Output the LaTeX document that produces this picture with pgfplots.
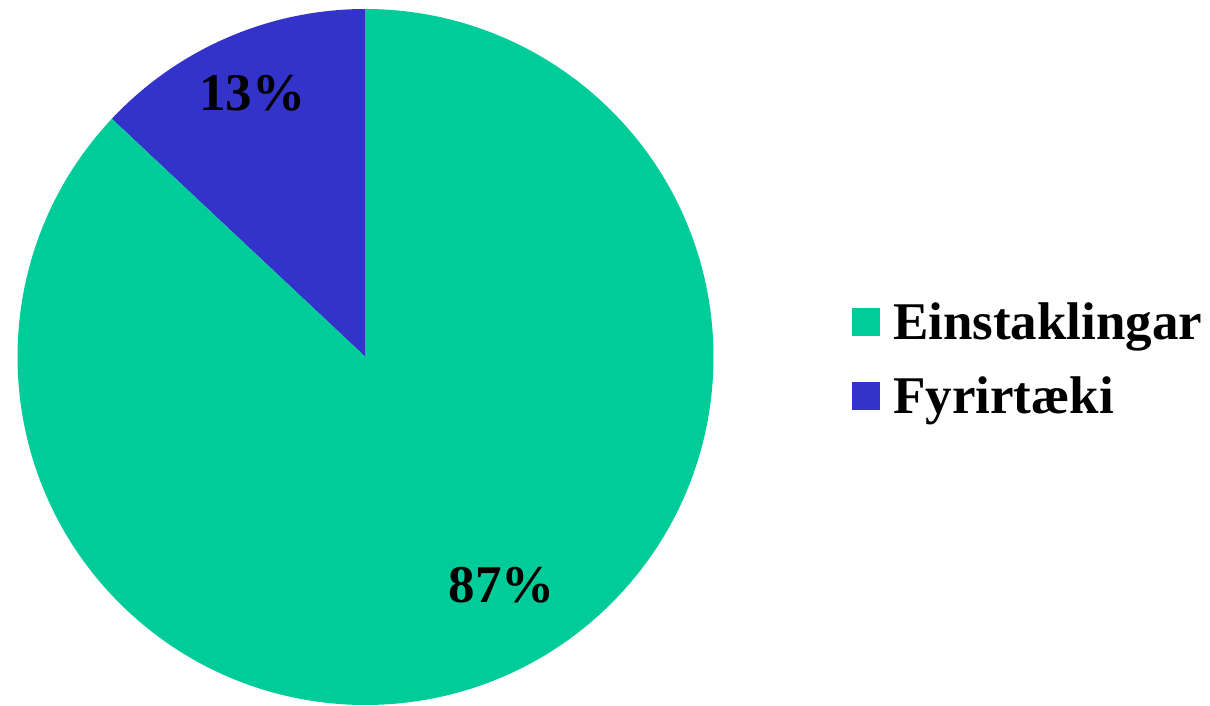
\documentclass[border=0pt]{standalone}
\usepackage{pgfplots}
\pgfplotsset{compat=1.18}
\usepackage{pgfplotstable}
\usepackage{fontspec}
\setmainfont{Liberation Serif}

\definecolor{einst}{HTML}{00CC99}
\definecolor{fyrir}{HTML}{3333CC}

\pgfplotstableread[col sep=comma]{
label,value
Einstaklingar,87
Fyrirtæki,13
}\piedata

% angles: Fyrirtaeki starts at the top and runs counterclockwise
\pgfplotstablegetelem{0}{value}\of\piedata \let\vEin\pgfplotsretval
\pgfplotstablegetelem{1}{value}\of\piedata \let\vFyr\pgfplotsretval
\pgfmathsetmacro\aStart{90}
\pgfmathsetmacro\aMid{90+3.6*\vFyr}
\pgfmathsetmacro\aEnd{\aMid+3.6*\vEin}
\def\R{174pt}

\begin{document}
\begin{tikzpicture}
\useasboundingbox (0,0) rectangle (605pt,353pt);
\begin{axis}[
  at={(0,0)}, anchor=south west,
  width=605pt, height=353pt, scale only axis,
  xmin=-1.0503, xmax=2.4267, ymin=-1.0029, ymax=1.0259,
  hide axis, clip=false,
  font=\fontsize{26.5}{30}\selectfont\bfseries,
  legend image code/.code={\fill[#1] (0pt,-6.75pt) rectangle (13.5pt,6.75pt);},
  legend cell align=left,
  legend style={draw=none, fill=none, at={(0.7041,0.4915)}, anchor=west,
    inner sep=0pt, row sep=8.25pt,
    nodes={inner sep=0pt, text height=23pt, text depth=5.5pt},
    /tikz/every odd column/.append style={column sep=6.5pt}},
]
\addlegendimage{einst}
\addlegendentry{Einstaklingar}
\addlegendimage{fyrir}
\addlegendentry{Fyrirtæki}

\fill[fyrir] (axis cs:0,0) -- ++(\aStart:\R) arc[start angle=\aStart, end angle=\aMid, radius=\R] -- cycle;
\fill[einst] (axis cs:0,0) -- ++(\aMid:\R) arc[start angle=\aMid, end angle=\aEnd, radius=\R] -- cycle;

\node at (axis cs:-0.326,0.757) {13\%};
\node at (axis cs:0.392,-0.657) {87\%};
\end{axis}
\end{tikzpicture}
\end{document}
